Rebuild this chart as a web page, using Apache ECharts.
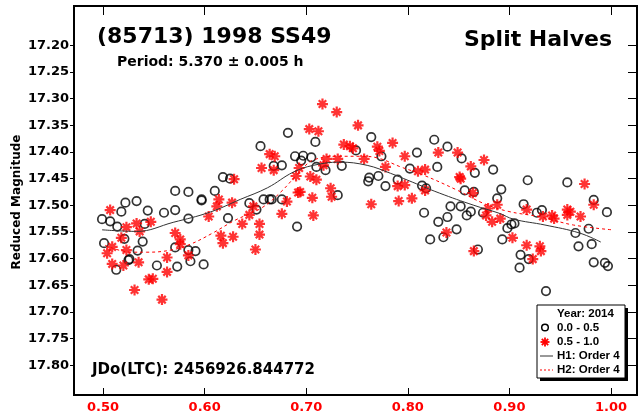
<!DOCTYPE html>
<html>
<head>
<meta charset="utf-8">
<script src="https://cdn.jsdelivr.net/npm/echarts@6/dist/echarts.min.js"></script>
<style>html,body{margin:0;padding:0;background:#fff}#c{width:639px;height:418px}</style>
</head>
<body>
<div id="c"></div>
<script>
// ---- data ----
const xTicks = [0.50, 0.60, 0.70, 0.80, 0.90, 1.00];
const yTicks = [17.20, 17.25, 17.30, 17.35, 17.40, 17.45, 17.50, 17.55, 17.60, 17.65, 17.70, 17.75, 17.80];
const firstHalf = [ // phase 0.0 - 0.5 (circles)
[0.499,17.526],[0.507,17.530],[0.514,17.540],[0.518,17.512],[0.522,17.495],[0.533,17.492],[0.544,17.510],[0.560,17.514],[0.571,17.473],[0.584,17.475],[0.571,17.509],[0.584,17.525],[0.541,17.535],[0.501,17.571],[0.521,17.563],[0.539,17.568],[0.534,17.585],[0.571,17.579],[0.584,17.584],[0.591,17.586],[0.586,17.605],[0.526,17.601],[0.525,17.603],[0.513,17.621],[0.553,17.613],[0.573,17.615],[0.599,17.611],
[0.682,17.364],[0.655,17.389],[0.689,17.408],[0.697,17.407],[0.695,17.416],[0.705,17.410],[0.668,17.426],[0.676,17.425],[0.618,17.447],[0.625,17.450],[0.610,17.473],[0.597,17.489],[0.597,17.491],[0.644,17.496],[0.651,17.508],[0.658,17.489],[0.664,17.489],[0.666,17.489],[0.676,17.489],[0.623,17.524],[0.691,17.540],
[0.709,17.381],[0.710,17.428],[0.719,17.434],[0.735,17.426],[0.749,17.397],[0.731,17.481],[0.764,17.372],[0.774,17.408],[0.762,17.448],[0.761,17.455],[0.771,17.445],[0.778,17.464],[0.790,17.452],
[0.826,17.377],[0.839,17.390],[0.809,17.401],[0.853,17.412],[0.802,17.431],[0.829,17.428],[0.866,17.439],[0.884,17.433],[0.814,17.463],[0.818,17.468],[0.856,17.472],[0.865,17.475],[0.892,17.470],[0.888,17.487],[0.842,17.502],[0.852,17.502],[0.862,17.512],[0.858,17.519],[0.874,17.514],[0.816,17.514],[0.830,17.531],[0.839,17.522],[0.848,17.545],[0.822,17.564],[0.835,17.560],[0.893,17.564],[0.898,17.543],[0.902,17.536],[0.905,17.534],[0.869,17.583],[0.911,17.593],[0.910,17.617],[0.919,17.601],[0.918,17.453],[0.914,17.498],[0.927,17.514],[0.932,17.509],[0.957,17.457],[0.936,17.661],[0.965,17.552],[0.978,17.544],[0.968,17.577],[0.981,17.573],[0.983,17.490],[0.983,17.607],[0.994,17.608],[0.997,17.614],[0.996,17.513]
];
const secondHalf = [ // phase 0.5 - 1.0 (asterisks)
[0.507,17.509],[0.523,17.541],[0.533,17.534],[0.547,17.531],[0.536,17.549],[0.571,17.552],[0.518,17.561],[0.576,17.564],[0.576,17.573],[0.509,17.578],[0.504,17.590],[0.523,17.584],[0.535,17.607],[0.563,17.598],[0.584,17.594],[0.509,17.610],[0.520,17.613],[0.563,17.625],[0.545,17.639],[0.549,17.638],[0.531,17.659],[0.558,17.677],
[0.604,17.521],[0.616,17.557],[0.618,17.571],[0.628,17.559],[0.637,17.535],[0.644,17.518],[0.648,17.502],[0.654,17.535],[0.654,17.555],[0.650,17.583],[0.614,17.489],[0.612,17.502],[0.627,17.495],[0.629,17.451],[0.664,17.404],[0.669,17.408],[0.656,17.430],[0.668,17.434],[0.693,17.430],[0.690,17.445],[0.681,17.493],[0.692,17.476],[0.676,17.516],
[0.716,17.310],[0.730,17.325],[0.751,17.350],[0.703,17.357],[0.712,17.361],[0.720,17.413],[0.731,17.413],[0.737,17.386],[0.743,17.389],[0.746,17.393],[0.770,17.390],[0.772,17.398],[0.785,17.383],[0.797,17.408],[0.757,17.413],[0.717,17.425],[0.778,17.428],[0.704,17.446],[0.710,17.452],[0.694,17.475],[0.724,17.468],[0.725,17.484],[0.706,17.486],[0.707,17.519],[0.764,17.498],[0.791,17.492],[0.790,17.464],[0.797,17.462],[0.804,17.487],
[0.830,17.401],[0.849,17.401],[0.875,17.415],[0.862,17.427],[0.810,17.436],[0.817,17.433],[0.851,17.447],[0.852,17.450],[0.817,17.472],[0.864,17.477],[0.888,17.499],[0.879,17.506],[0.877,17.519],[0.883,17.531],[0.891,17.525],[0.917,17.508],[0.933,17.521],[0.942,17.519],[0.944,17.525],[0.957,17.508],[0.960,17.512],[0.957,17.518],[0.970,17.521],[0.983,17.499],[0.974,17.460],[0.838,17.551],[0.865,17.586],[0.903,17.561],[0.917,17.575],[0.930,17.577],[0.931,17.586],[0.923,17.601]
];
const fitH1 = [[0.499,17.546],[0.533,17.549],[0.569,17.532],[0.605,17.513],[0.635,17.489],[0.662,17.467],[0.687,17.438],[0.707,17.425],[0.733,17.419],[0.760,17.425],[0.783,17.440],[0.800,17.453],[0.831,17.477],[0.865,17.500],[0.890,17.515],[0.904,17.526],[0.935,17.537],[0.969,17.552],[0.990,17.569]];
const fitH2 = [[0.502,17.575],[0.528,17.588],[0.543,17.588],[0.567,17.584],[0.586,17.573],[0.608,17.552],[0.630,17.528],[0.656,17.505],[0.675,17.475],[0.695,17.434],[0.707,17.415],[0.733,17.408],[0.753,17.408],[0.770,17.411],[0.793,17.428],[0.815,17.443],[0.849,17.472],[0.874,17.496],[0.898,17.511],[0.931,17.522],[0.963,17.537],[1.001,17.546]];

// ---- chart ----
const F = 'DejaVu Sans';
const starPath = 'path://M5 0L5 10M0 5L10 5M1.6 1.6L8.4 8.4M8.4 1.6L1.6 8.4';
const chart = echarts.init(document.getElementById('c'), null, {renderer: 'canvas'});
const xMin = 0.4714, xMax = 1.0256, yMin = 17.126, yMax = 17.856;
const fmt2 = v => Number(v).toFixed(2);
const LF = 'bold 11.5px "Liberation Sans"';
function legLine(x1, y1, x2, y2, color, w, dash) {
  const st = {stroke: color, lineWidth: w};
  if (dash) st.lineDash = dash;
  return {type: 'line', shape: {x1: x1, y1: y1, x2: x2, y2: y2}, style: st, z: 12};
}
chart.setOption({
  animation: false,
  backgroundColor: '#fff',
  grid: {left: 74, right: 2, top: 6, bottom: 23, show: true, borderColor: '#000', borderWidth: 2, backgroundColor: 'transparent'},
  xAxis: [
    {type: 'value', position: 'bottom', min: xMin, max: xMax, splitLine: {show: false},
     axisLine: {show: false},
     axisTick: {show: true, inside: true, length: 7, customValues: xTicks, lineStyle: {color: '#000', width: 1}},
     axisLabel: {customValues: xTicks, formatter: fmt2, color: '#ff0000', fontFamily: F, fontWeight: 'bold', fontSize: 13, margin: 6}},
    {type: 'value', position: 'top', min: xMin, max: xMax, splitLine: {show: false},
     axisLine: {show: false},
     axisTick: {show: true, inside: true, length: 9, customValues: xTicks, lineStyle: {color: '#000', width: 1}},
     axisLabel: {show: false}}
  ],
  yAxis: [
    {type: 'value', position: 'left', inverse: true, min: yMin, max: yMax, splitLine: {show: false},
     axisLine: {show: false},
     axisTick: {show: true, inside: false, length: 4, customValues: yTicks, lineStyle: {color: '#000', width: 1}},
     axisLabel: {customValues: yTicks, formatter: fmt2, color: '#000', fontFamily: F, fontWeight: 'bold', fontSize: 13, margin: 5}},
    {type: 'value', position: 'right', inverse: true, min: yMin, max: yMax, splitLine: {show: false},
     axisLine: {show: false},
     axisTick: {show: true, inside: true, length: 9, customValues: yTicks, lineStyle: {color: '#000', width: 1}},
     axisLabel: {show: false}}
  ],
  series: [
    {name: '0.0 - 0.5', type: 'scatter', data: firstHalf, symbol: 'circle', symbolSize: 8.5,
     itemStyle: {color: 'rgba(0,0,0,0)', borderColor: '#000', borderWidth: 1.7}, z: 3},
    {name: '0.5 - 1.0', type: 'scatter', data: secondHalf, symbol: starPath, symbolSize: 11,
     itemStyle: {color: 'rgba(0,0,0,0)', borderColor: '#ff0000', borderWidth: 2.2}, z: 4},
    {name: 'H1: Order 4', type: 'line', data: fitH1, smooth: 0.4, showSymbol: false, symbol: 'none',
     lineStyle: {color: '#333', width: 1}, z: 5},
    {name: 'H2: Order 4', type: 'line', data: fitH2, smooth: 0.4, showSymbol: false, symbol: 'none',
     lineStyle: {color: '#ff0000', width: 1, type: [3, 3]}, z: 5}
  ],
  graphic: [
    {type: 'text', x: 97, y: 37, style: {text: '(85713) 1998 SS49', font: 'bold 22px "DejaVu Sans"', fill: '#000', align: 'left', verticalAlign: 'middle'}},
    {type: 'text', x: 117, y: 62, style: {text: 'Period: 5.370 \u00b1 0.005 h', font: 'bold 14px "DejaVu Sans"', fill: '#000', align: 'left', verticalAlign: 'middle'}},
    {type: 'text', x: 612, y: 40, style: {text: 'Split Halves', font: 'bold 22px "DejaVu Sans"', fill: '#000', align: 'right', verticalAlign: 'middle'}},
    {type: 'text', x: 92, y: 370, style: {text: 'JDo(LTC): 2456926.844772', font: 'bold 15px "DejaVu Sans"', fill: '#000', align: 'left', verticalAlign: 'middle'}},
    {type: 'text', x: 17, y: 202, rotation: Math.PI / 2, style: {text: 'Reduced Magnitude', font: 'bold 12px "DejaVu Sans"', fill: '#000', align: 'center', verticalAlign: 'middle'}},
    // legend
    {type: 'rect', shape: {x: 540, y: 308, width: 88, height: 73}, style: {fill: '#000'}, z: 10},
    {type: 'rect', shape: {x: 537, y: 305, width: 88, height: 73}, style: {fill: '#fff', stroke: '#000', lineWidth: 1}, z: 11},
    {type: 'text', x: 557, y: 314, style: {text: 'Year: 2014', font: LF, fill: '#000', verticalAlign: 'middle'}, z: 12},
    {type: 'circle', shape: {cx: 545, cy: 327.5, r: 3.3}, style: {fill: 'none', stroke: '#000', lineWidth: 1.5}, z: 12},
    {type: 'text', x: 557, y: 328, style: {text: '0.0 - 0.5', font: LF, fill: '#000', verticalAlign: 'middle'}, z: 12},
    legLine(545, 337.5, 545, 346.5, '#ff0000', 1.8),
    legLine(540.5, 342, 549.5, 342, '#ff0000', 1.8),
    legLine(541.8, 338.8, 548.2, 345.2, '#ff0000', 1.8),
    legLine(548.2, 338.8, 541.8, 345.2, '#ff0000', 1.8),
    {type: 'text', x: 557, y: 342, style: {text: '0.5 - 1.0', font: LF, fill: '#000', verticalAlign: 'middle'}, z: 12},
    legLine(540, 356, 553, 356, '#333', 1),
    {type: 'text', x: 557, y: 356, style: {text: 'H1: Order 4', font: LF, fill: '#000', verticalAlign: 'middle'}, z: 12},
    legLine(540, 370, 553, 370, '#ff0000', 1, [2, 2]),
    {type: 'text', x: 557, y: 370, style: {text: 'H2: Order 4', font: LF, fill: '#000', verticalAlign: 'middle'}, z: 12}
  ]
});
</script>
</body>
</html>
